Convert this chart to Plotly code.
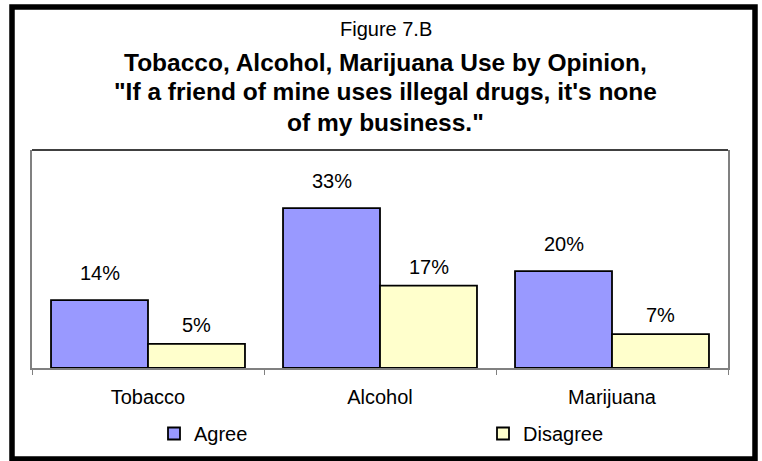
import plotly.graph_objects as go

categories = ["Tobacco", "Alcohol", "Marijuana"]
agree = [14, 33, 20]
disagree = [5, 17, 7]
series_names = ["Agree", "Disagree"]
title_small = "Figure 7.B"
title_lines = [
    "Tobacco, Alcohol, Marijuana Use by Opinion,",
    "\"If a friend of mine uses illegal drugs, it's none",
    "of my business.\"",
]

W, H = 762, 461
L, R, T, B = 32, 34, 150, 93
PW, PH = W - L - R, H - T - B
FONT = "Liberation Sans, Arial, sans-serif"


def px_x(px):
    return (px - L) / PW


def px_y(py):
    return (H - B - py) / PH


fig = go.Figure()
fig.add_trace(go.Bar(
    name=series_names[0], x=categories, y=agree, legend="legend",
    marker=dict(color="#9999FF", line=dict(color="#000000", width=1.8)),
))
fig.add_trace(go.Bar(
    name=series_names[1], x=categories, y=disagree, legend="legend2",
    marker=dict(color="#FFFFCC", line=dict(color="#000000", width=1.8)),
))

annotations = []
# data labels
for vals, shift, ys in ((agree, -48.5, 26.8), (disagree, 48.5, 18.8)):
    for c, v in zip(categories, vals):
        annotations.append(dict(
            x=c, y=v, xref="x", yref="y", text=f"{v}%", showarrow=False,
            xshift=shift, yshift=ys, yanchor="middle",
            font=dict(family=FONT, size=20, color="#000000"),
        ))

# titles
annotations.append(dict(
    x=px_x(386), y=px_y(29), xref="paper", yref="paper", text=title_small,
    showarrow=False, yanchor="middle", xanchor="center",
    font=dict(family=FONT, size=20, color="#000000"),
))
for line, cy in zip(title_lines, (62.5, 91.5, 122.5)):
    annotations.append(dict(
        x=px_x(385), y=px_y(cy), xref="paper", yref="paper",
        text=f"<b>{line}</b>", showarrow=False, yanchor="middle", xanchor="center",
        font=dict(family=FONT, size=24.5, color="#000000"),
    ))

shapes = [
    # top border of plot area (black)
    dict(type="line", xref="paper", yref="paper", x0=0, x1=1, y0=1, y1=1,
         line=dict(color="#000000", width=1.5)),
    # outer frame
    dict(type="rect", xref="paper", yref="paper",
         x0=px_x(12), x1=px_x(755), y0=px_y(7), y1=px_y(459),
         line=dict(color="#000000", width=5.5)),
]

legend_common = dict(
    orientation="h", xanchor="left", yanchor="middle",
    xref="container", yref="container",
    font=dict(family=FONT, size=20, color="#000000"),
    bgcolor="rgba(0,0,0,0)", borderwidth=0,
)

fig.update_layout(
    width=W, height=H,
    margin=dict(l=L, r=R, t=T, b=B, pad=0, autoexpand=False),
    paper_bgcolor="#FFFFFF", plot_bgcolor="#FFFFFF",
    barmode="group", bargap=0.164, bargroupgap=0,
    showlegend=True,
    legend=dict(x=154 / W, y=(H - 433.5) / H, **legend_common),
    legend2=dict(x=483 / W, y=(H - 433.5) / H, **legend_common),
    xaxis=dict(
        showline=True, linecolor="#808080", linewidth=1.5,
        ticks="outside", tickson="boundaries", ticklen=5,
        tickcolor="#808080", tickwidth=1.2, automargin=False,
        showgrid=False, zeroline=False, ticklabelstandoff=10,
        tickfont=dict(family=FONT, size=20, color="#000000"),
    ),
    yaxis=dict(
        range=[0, 45], showline=True, mirror=True, linecolor="#808080",
        linewidth=1.5, showticklabels=False, ticks="", automargin=False,
        showgrid=False, zeroline=False,
    ),
    annotations=annotations,
    shapes=shapes,
)

fig.write_html(
    "out.html",
    config={"displayModeBar": False},
    post_script="document.body.style.margin='0px';",
)
